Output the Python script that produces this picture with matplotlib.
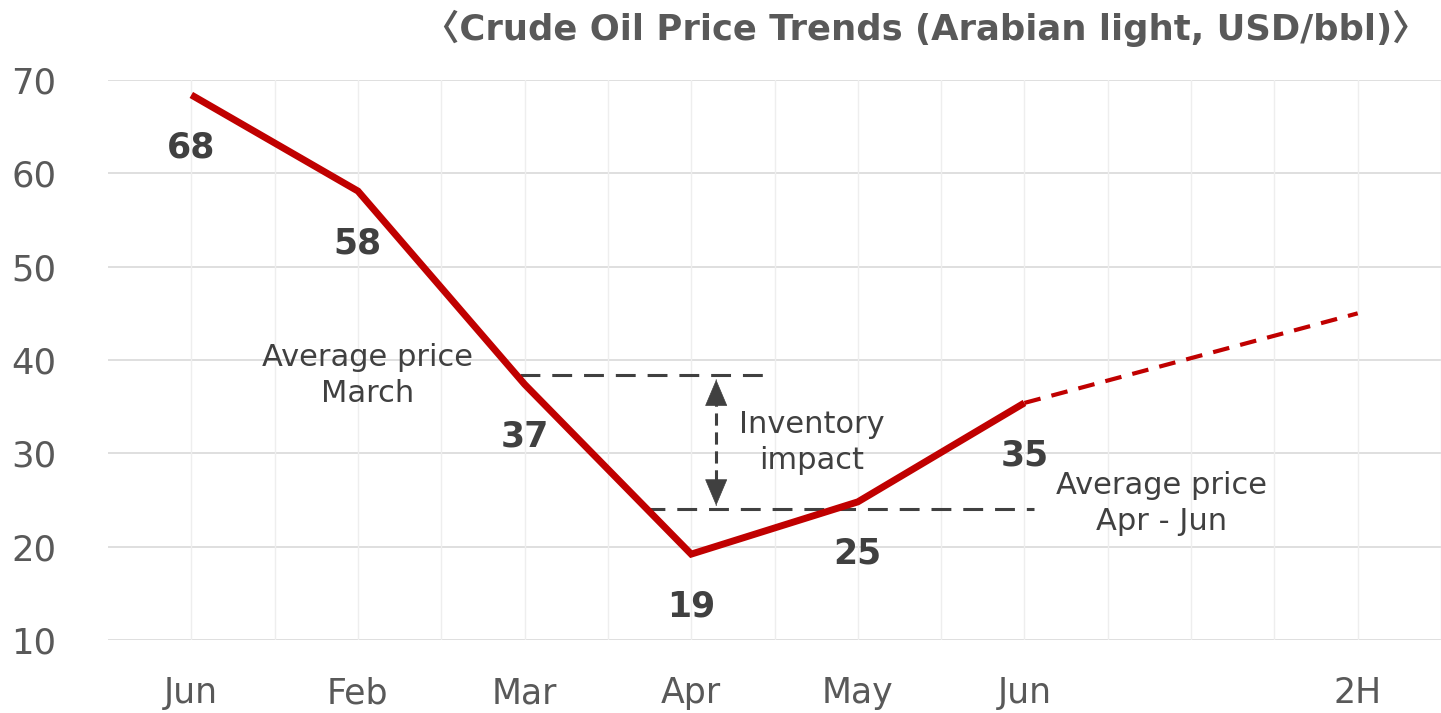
import matplotlib
matplotlib.use("Agg")
import matplotlib.pyplot as plt
import numpy as np

# ---- data ----
categories = ["Jun", "Feb", "Mar", "Apr", "May", "Jun", "", "2H"]
actual_values = [68.4, 58.1, 37.4, 19.2, 24.8, 35.4]
forecast_values = [35.4, 45.0]          # Jun -> 2H
forecast_idx = [5, 7]
avg_march = 38.4
avg_apr_jun = 24.0
y_ticks = [10, 20, 30, 40, 50, 60, 70]
title = "\u3008Crude Oil Price Trends (Arabian light, USD/bbl)\u3009"

RED = "#C00000"
DARK = "#404040"
GRAY = "#595959"

plt.rcParams["font.family"] = ["DejaVu Sans", "Noto Sans CJK JP"]

fig = plt.figure(figsize=(14.41, 7.13), dpi=100)
ax = fig.add_axes([108 / 1441, 1 - 640 / 713, 1 - 108 / 1441, (640 - 80) / 713])

x_actual = np.arange(len(actual_values))
ax.set_xlim(-0.5, len(categories) - 0.5)
ax.set_ylim(y_ticks[0], y_ticks[-1])

# gridlines
for v in y_ticks:
    ax.axhline(v, color="#d9d9d9", lw=1.2, zorder=0)
for xv in np.arange(0, len(categories) - 0.5 + 0.01, 0.5):
    ax.axvline(xv, color="#eeeeee", lw=1.0, zorder=0)

for s in ax.spines.values():
    s.set_visible(False)

ax.set_yticks(y_ticks)
ax.set_yticklabels([str(v) for v in y_ticks], fontsize=25.5, color=GRAY)
ax.set_xticks(np.arange(len(categories)))
ax.set_xticklabels(categories, fontsize=25, color=GRAY)
ax.tick_params(axis="y", length=0, pad=37)
ax.tick_params(axis="x", length=0, pad=26)

# main line
ax.plot(x_actual, actual_values, color=RED, lw=5, solid_joinstyle="miter",
        solid_capstyle="butt", zorder=4)
ax.plot(forecast_idx, forecast_values, color=RED, lw=3,
        linestyle=(0, (4, 2.7)), zorder=4)

# data labels
for xi, v in zip(x_actual, actual_values):
    ax.annotate(f"{round(v):d}", xy=(xi, v), xytext=(0, -37.5),
                textcoords="offset points", ha="center", va="center",
                fontsize=25, fontweight="bold", color=DARK, zorder=5)

# average lines
dash = (0, (6.5, 3.9))
ax.plot([1.97, 3.47], [avg_march, avg_march], color=DARK, lw=2.2,
        linestyle=dash, zorder=3)
ax.plot([2.72, 5.06], [avg_apr_jun, avg_apr_jun], color=DARK, lw=2.2,
        linestyle=dash, zorder=3)

# inventory impact arrow: dashed shaft + solid heads
arrow_x = 3.15
top_tip = avg_march - 0.5
bot_tip = avg_apr_jun + 0.4
ax.plot([arrow_x, arrow_x], [top_tip - 1.5, bot_tip + 1.5], color=DARK, lw=2.2,
        linestyle=(0, (4, 2.2)), zorder=3)
head = dict(arrowstyle="-|>,head_length=0.9,head_width=0.38", color=DARK,
            lw=0.5, shrinkA=0, shrinkB=0, mutation_scale=20)
ax.annotate("", xy=(arrow_x, top_tip), xytext=(arrow_x, top_tip - 0.05),
            arrowprops=head, zorder=3)
ax.annotate("", xy=(arrow_x, bot_tip), xytext=(arrow_x, bot_tip + 0.05),
            arrowprops=head, zorder=3)

# annotations
ax.text(1.056, 38.3, "Average price\nMarch", ha="center", va="center",
        fontsize=22, color=DARK, linespacing=1.3)
ax.text(3.725, 31.2, "Inventory\nimpact", ha="center", va="center",
        fontsize=22, color=DARK, linespacing=1.3)
ax.text(5.825, 24.6, "Average price\nApr - Jun", ha="center", va="center",
        fontsize=22, color=DARK, linespacing=1.3)

fig.text(926 / 1441, 1 - 28 / 713, title, ha="center", va="center",
         fontsize=25.5, fontweight="bold", color=GRAY)

fig.savefig("out.png", dpi=100)
